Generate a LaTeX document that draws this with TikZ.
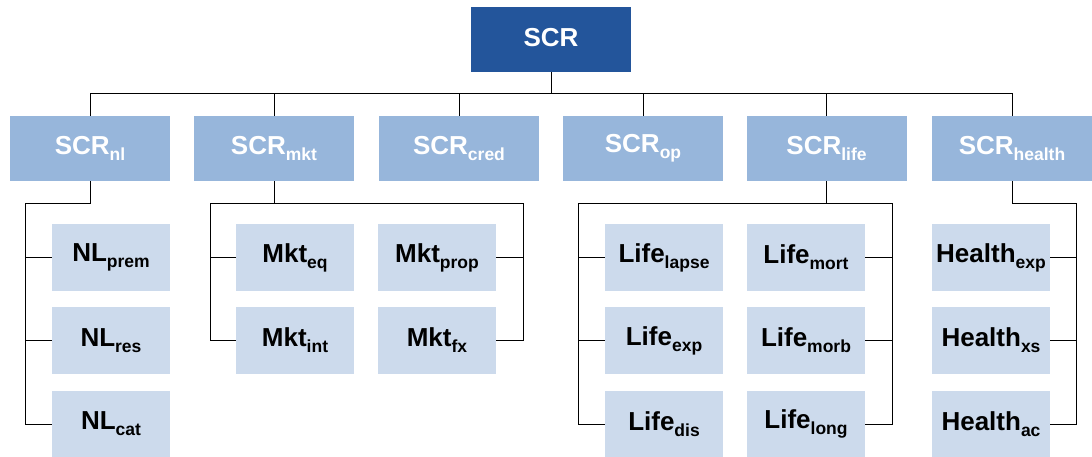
\documentclass[tikz,border=0pt]{standalone}
\usepackage{fontspec}
\setmainfont{Liberation Sans}
\usepackage{xcolor}
\usetikzlibrary{calc}
\definecolor{scrblue}{RGB}{35,85,155}
\definecolor{modblue}{RGB}{151,182,219}
\definecolor{subblue}{RGB}{204,218,236}
\newcommand{\risk}[2]{#1{\fontsize{17.5}{17.5}\selectfont\raisebox{-6pt}{#2}}}

\begin{document}
\begin{tikzpicture}[x=1pt, y=-1pt, font=\fontsize{26}{26}\selectfont\bfseries,
    topbox/.style={rectangle, fill=scrblue, text=white, minimum width=160pt, minimum height=65pt, inner sep=0pt},
    modbox/.style={rectangle, fill=modblue, text=white, minimum width=160pt, minimum height=65pt, inner sep=0pt},
    subbox/.style={rectangle, fill=subblue, text=black, minimum width=118pt, minimum height=67pt, inner sep=0pt},
    link/.style={black, line width=1pt}]
    \useasboundingbox (0,0) rectangle (1092,457);

    % Total SCR
    \node[topbox, text depth=5pt] (scr) at (551,39.5) {SCR};

    % Risk modules
    \node[modbox] (nl) at (90,148.5) {\risk{SCR}{nl}};
    \node[modbox] (mkt) at (274,148.5) {\risk{SCR}{mkt}};
    \node[modbox] (cred) at (459,148.5) {\risk{SCR}{cred}};
    \node[modbox] (op) at (643,148.5) {\risk{SCR}{op}};
    \node[modbox] (life) at (826.5,148.5) {\risk{SCR}{life}};
    \node[modbox] (health) at (1012,148.5) {\risk{SCR}{health}};

    % Non-life sub-modules
    \node[subbox] (nlprem) at (111,257.5) {\risk{NL}{prem}};
    \node[subbox] (nlres) at (111,340.5) {\risk{NL}{res}};
    \node[subbox] (nlcat) at (111,424) {\risk{NL}{cat}};

    % Market sub-modules
    \node[subbox] (mkteq) at (295,257.5) {\risk{Mkt}{eq}};
    \node[subbox] (mktint) at (295,340.5) {\risk{Mkt}{int}};
    \node[subbox] (mktprop) at (437,257.5) {\risk{Mkt}{prop}};
    \node[subbox] (mktfx) at (437,340.5) {\risk{Mkt}{fx}};

    % Life sub-modules
    \node[subbox] (lifelapse) at (664,257.5) {\risk{Life}{lapse}};
    \node[subbox] (lifeexp) at (664,340.5) {\risk{Life}{exp}};
    \node[subbox] (lifedis) at (664,424) {\risk{Life}{dis}};
    \node[subbox] (lifemort) at (806,257.5) {\risk{Life}{mort}};
    \node[subbox] (lifemorb) at (806,340.5) {\risk{Life}{morb}};
    \node[subbox] (lifelong) at (806,424) {\risk{Life}{long}};

    % Health sub-modules
    \node[subbox] (hexp) at (991,257.5) {\risk{Health}{exp}};
    \node[subbox] (hxs) at (991,340.5) {\risk{Health}{xs}};
    \node[subbox] (hac) at (991,424) {\risk{Health}{ac}};

    % Top bus
    \coordinate (bus) at (0,94);
    \draw[link] (scr.south) -- (scr.south |- bus);
    \draw[link] (nl.north) -- (nl.north |- bus) -- (health.north |- bus) -- (health.north);
    \foreach \m in {mkt, cred, op, life}
        \draw[link] (\m.north) -- (\m.north |- bus);

    % Non-life links
    \coordinate (nlbus) at (25,204);
    \draw[link] (nl.south) |- (nlbus) |- (nlcat.west);
    \draw[link] (nlbus |- nlprem.west) -- (nlprem.west);
    \draw[link] (nlbus |- nlres.west) -- (nlres.west);

    % Market links
    \coordinate (mktl) at (210,204);
    \coordinate (mktr) at (523,204);
    \draw[link] (mkt.south) -- (mkt.south |- mktl);
    \draw[link] (mktint.west) -| (mktl) -- (mktr) |- (mktfx.east);
    \draw[link] (mktl |- mkteq.west) -- (mkteq.west);
    \draw[link] (mktr |- mktprop.east) -- (mktprop.east);

    % Life links
    \coordinate (lifel) at (578,204);
    \coordinate (lifer) at (892,204);
    \draw[link] (life.south) -- (life.south |- lifel);
    \draw[link] (lifedis.west) -| (lifel) -- (lifer) |- (lifelong.east);
    \draw[link] (lifel |- lifelapse.west) -- (lifelapse.west);
    \draw[link] (lifel |- lifeexp.west) -- (lifeexp.west);
    \draw[link] (lifer |- lifemort.east) -- (lifemort.east);
    \draw[link] (lifer |- lifemorb.east) -- (lifemorb.east);

    % Health links
    \coordinate (hbus) at (1076,204);
    \draw[link] (health.south) |- (hbus) |- (hac.east);
    \draw[link] (hbus |- hexp.east) -- (hexp.east);
    \draw[link] (hbus |- hxs.east) -- (hxs.east);
\end{tikzpicture}
\end{document}
